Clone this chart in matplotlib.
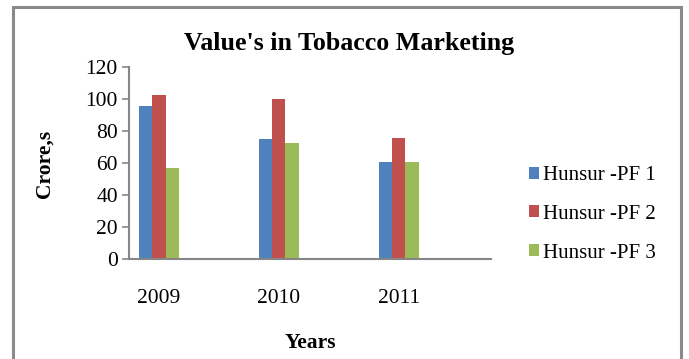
import numpy as np
import matplotlib.pyplot as plt
from matplotlib.patches import Rectangle

plt.rcParams['font.family'] = ['Liberation Serif', 'DejaVu Serif']

years = ['2009', '2010', '2011']
series = ['Hunsur -PF 1', 'Hunsur -PF 2', 'Hunsur -PF 3']
pf1 = [96, 75.5, 61]
pf2 = [103, 100, 76]
pf3 = [57, 72.5, 61]
colors = ['#4F81BD', '#C0504D', '#9BBB59']

fig = plt.figure(figsize=(6.89, 3.59), dpi=100)
ax = fig.add_axes([0.1872, 0.2772, 0.5254, 0.5348])

x = np.arange(len(years))
w = 0.111
for i, (vals, name, c) in enumerate(zip([pf1, pf2, pf3], series, colors)):
    ax.bar(x + (i - 1) * w, vals, w, color=c, label=name)

ax.set_xlim(-0.25, 2.77)
ax.set_ylim(0, 120)
ax.set_yticks(np.arange(0, 121, 20))
ax.set_xticks(x)
ax.set_xticklabels(years)

gray = '#868686'
for s in ['top', 'right']:
    ax.spines[s].set_visible(False)
ax.spines['left'].set_color(gray)
ax.spines['bottom'].set_color(gray)
ax.spines['left'].set_linewidth(1.5)
ax.spines['bottom'].set_linewidth(1.5)
ax.tick_params(axis='y', length=5, width=1.2, color=gray, labelsize=15.5, pad=3)
ax.tick_params(axis='x', length=0, labelsize=15.5, pad=21.5)

ax.set_xlabel('Years', fontsize=15.5, fontweight='bold', labelpad=18)
ax.set_ylabel('Crore,s', fontsize=15.5, fontweight='bold', labelpad=22.5)
fig.text(0.506, 0.88, "Value's in Tobacco Marketing", ha='center', va='center',
         fontsize=18.7, fontweight='bold')

fig.legend(loc='center left', bbox_to_anchor=(0.755, 0.403), frameon=False,
           fontsize=15, handlelength=0.5, handleheight=0.5, handletextpad=0.2,
           labelspacing=0.95, borderaxespad=0)

# outer chart frame
fig.patches.append(Rectangle((0.0195, -0.05), 0.9695, 1.03, transform=fig.transFigure,
                             fill=False, edgecolor='#8a8a8a', linewidth=2.2))

fig.savefig('out.png', dpi=100)
